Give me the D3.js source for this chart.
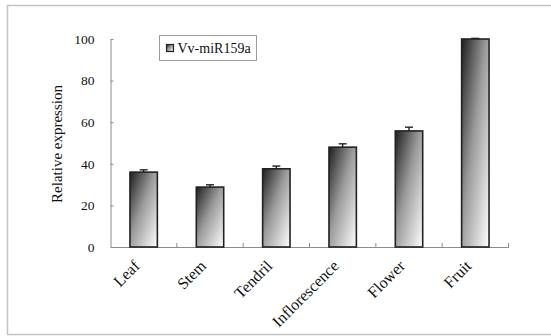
<!DOCTYPE html>
<html>
<head>
<meta charset="utf-8">
<script src="https://cdn.jsdelivr.net/npm/d3@7/dist/d3.min.js"></script>
<style>
  html, body { margin: 0; padding: 0; background: #fff; }
  svg { display: block; }
</style>
</head>
<body>
<svg id="chart" width="551" height="336"></svg>
<script>
// Tissue-specific expression of Vv-miR159a
const categories = ["Leaf", "Stem", "Tendril", "Inflorescence", "Flower", "Fruit"];
const expression = [36, 28.8, 37.6, 48, 55.8, 100];
const errors = [1.1, 1.1, 1.3, 1.6, 1.8, 0.3];
const yTicks = [0, 20, 40, 60, 80, 100];
const seriesName = "Vv-miR159a";

const svg = d3.select("#chart");
const serif = "'Liberation Serif', 'Times New Roman', serif";

// outer frame
svg.append("rect")
  .attr("x", 7.5).attr("y", 5.5)
  .attr("width", 560).attr("height", 329)
  .attr("fill", "none").attr("stroke", "#c4c4c4").attr("stroke-width", 1.5);

// bar fill: dark at top-left fading to white at bottom-right
const defs = svg.append("defs");
const grad = defs.append("linearGradient")
  .attr("id", "barGrad")
  .attr("x1", 0).attr("y1", 0).attr("x2", 1).attr("y2", 1);
grad.append("stop").attr("offset", "0%").attr("stop-color", "#1e1e1e");
grad.append("stop").attr("offset", "45%").attr("stop-color", "#9a9a9a");
grad.append("stop").attr("offset", "100%").attr("stop-color", "#ffffff");

const plotLeft = 110.5, plotRight = 508.5, plotTop = 39, plotBottom = 247;

const x = d3.scaleBand()
  .domain(categories)
  .range([plotLeft, plotRight])
  .paddingInner(0.587)
  .paddingOuter(0.2935);

const y = d3.scaleLinear().domain([0, 100]).range([plotBottom, plotTop]);

// y axis, ticks pointing inward
const yAxis = svg.append("g")
  .attr("transform", `translate(${plotLeft},0)`)
  .call(d3.axisLeft(y).tickValues(yTicks).tickSize(-3).tickSizeOuter(0).tickPadding(16));
yAxis.select(".domain").attr("stroke", "#8c8c8c");
yAxis.selectAll(".tick line").attr("stroke", "#8c8c8c");
yAxis.selectAll("text")
  .attr("font-family", serif).attr("font-size", 13.5).attr("fill", "#111");

// x axis baseline and category labels
const xAxis = svg.append("g")
  .attr("transform", `translate(0,${plotBottom})`)
  .call(d3.axisBottom(x).tickSize(0).tickSizeOuter(0).tickPadding(0));
xAxis.select(".domain").attr("stroke", "#8c8c8c");
xAxis.selectAll(".tick text")
  .attr("font-family", serif).attr("font-size", 16).attr("fill", "#111")
  .attr("text-anchor", "end")
  .attr("y", 0).attr("dy", 0)
  .attr("transform", "translate(-3,20) rotate(-45)");

// boundary tick marks between categories, pointing up
const step = x.step();
const boundaries = d3.range(1, categories.length + 1).map(i => plotLeft + i * step);
svg.append("g").selectAll("line")
  .data(boundaries)
  .join("line")
  .attr("x1", d => d).attr("x2", d => d)
  .attr("y1", plotBottom).attr("y2", plotBottom - 4)
  .attr("stroke", "#8c8c8c");

// bars
const rows = categories.map((c, i) => ({ c, v: expression[i], e: errors[i] }));
svg.append("g").selectAll("rect")
  .data(rows)
  .join("rect")
  .attr("x", d => x(d.c))
  .attr("y", d => y(d.v))
  .attr("width", x.bandwidth())
  .attr("height", d => plotBottom - y(d.v))
  .attr("fill", "url(#barGrad)")
  .attr("stroke", "#222")
  .attr("stroke-width", 1.6);

// upper error bars
const eb = svg.append("g").attr("stroke", "#222").attr("stroke-width", 1.4);
eb.selectAll("line.stem")
  .data(rows)
  .join("line").attr("class", "stem")
  .attr("x1", d => x(d.c) + x.bandwidth() / 2)
  .attr("x2", d => x(d.c) + x.bandwidth() / 2)
  .attr("y1", d => y(d.v))
  .attr("y2", d => y(d.v + d.e));
eb.selectAll("line.cap")
  .data(rows)
  .join("line").attr("class", "cap")
  .attr("x1", d => x(d.c) + x.bandwidth() / 2 - 4)
  .attr("x2", d => x(d.c) + x.bandwidth() / 2 + 4)
  .attr("y1", d => y(d.v + d.e))
  .attr("y2", d => y(d.v + d.e));

// y axis title
svg.append("text")
  .attr("transform", `translate(62,${(plotTop + plotBottom) / 2 + 1}) rotate(-90)`)
  .attr("text-anchor", "middle")
  .attr("font-family", serif).attr("font-size", 15).attr("fill", "#111")
  .text("Relative expression");

// legend
const lg = svg.append("g").attr("transform", "translate(159.5,35.5)");
lg.append("rect")
  .attr("width", 97).attr("height", 25)
  .attr("fill", "#fff").attr("stroke", "#9a9a9a").attr("stroke-width", 1);
lg.append("rect")
  .attr("x", 7).attr("y", 9).attr("width", 7).attr("height", 7)
  .attr("fill", "url(#barGrad)").attr("stroke", "#222").attr("stroke-width", 1.2);
lg.append("text")
  .attr("x", 18).attr("y", 17.5)
  .attr("font-family", serif).attr("font-size", 14).attr("fill", "#111")
  .text(seriesName);
</script>
</body>
</html>
